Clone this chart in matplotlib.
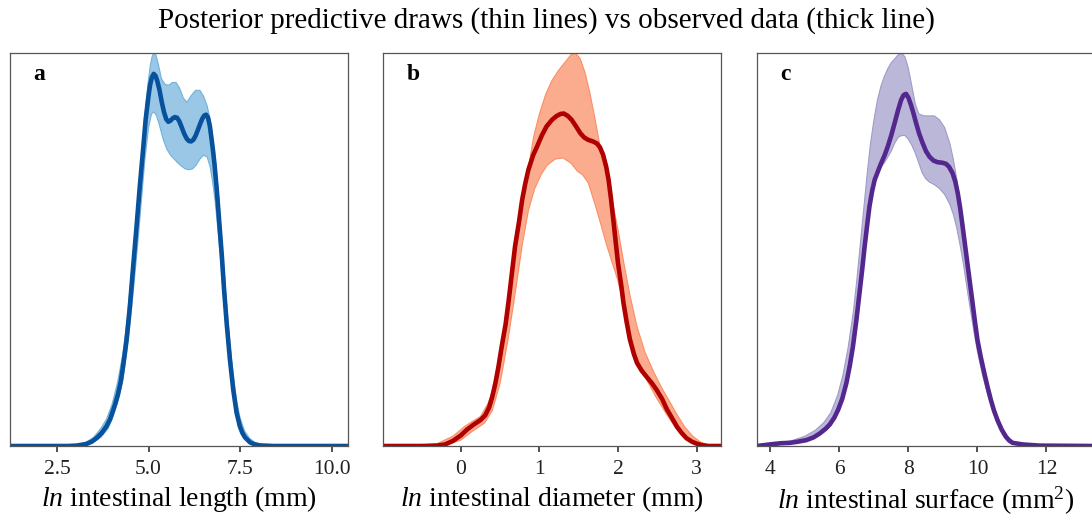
import matplotlib
matplotlib.use("Agg")
import matplotlib.pyplot as plt

plt.rcParams['font.family'] = ['Liberation Serif', 'DejaVu Serif']
plt.rcParams['mathtext.fontset'] = 'custom'
plt.rcParams['mathtext.rm'] = 'Liberation Serif'
plt.rcParams['mathtext.it'] = 'Liberation Serif:italic'
plt.rcParams['mathtext.bf'] = 'Liberation Serif:bold'

# ---------------- Panel a: ln intestinal length ----------------
len_obs_x = [1.22, 2.78, 3.03, 3.30, 3.45, 3.58, 3.72, 3.85, 3.95, 4.03, 4.10, 4.17, 4.24, 4.30,
             4.40, 4.49, 4.58, 4.67, 4.76, 4.85, 4.92, 4.99, 5.04, 5.09, 5.14, 5.19, 5.24, 5.30,
             5.36, 5.42, 5.48, 5.54, 5.60, 5.66, 5.72, 5.78, 5.84, 5.90, 5.97, 6.04, 6.10, 6.16,
             6.22, 6.28, 6.34, 6.40, 6.46, 6.52, 6.57, 6.62, 6.67, 6.72, 6.76, 6.80, 6.86, 6.93,
             7.00, 7.06, 7.13, 7.22, 7.31, 7.40, 7.49, 7.56, 7.63, 7.77, 7.90, 8.04, 8.41, 10.44]
len_obs_y = [0, 0, 0.001, 0.005, 0.011, 0.02, 0.033, 0.05, 0.068, 0.09, 0.11, 0.134, 0.163, 0.20,
             0.27, 0.355, 0.457, 0.556, 0.66, 0.754, 0.83, 0.885, 0.918, 0.938, 0.947, 0.942, 0.928, 0.905,
             0.875, 0.85, 0.832, 0.825, 0.828, 0.834, 0.837, 0.835, 0.826, 0.812, 0.795, 0.782, 0.776, 0.775,
             0.779, 0.789, 0.803, 0.818, 0.832, 0.841, 0.843, 0.836, 0.815, 0.78, 0.75, 0.715, 0.652, 0.567,
             0.482, 0.397, 0.313, 0.219, 0.143, 0.085, 0.05, 0.033, 0.022, 0.009, 0.004, 0.0015, 0, 0]
len_hi_x = [2.9, 3.1, 3.3, 3.5, 3.7, 3.85, 4.0, 4.15, 4.3, 4.4, 4.5, 4.6, 4.7, 4.8, 4.9, 4.98,
            5.05, 5.1, 5.15, 5.2, 5.27, 5.35, 5.45, 5.55, 5.65, 5.75, 5.85, 5.95, 6.05, 6.15, 6.28,
            6.4, 6.5, 6.6, 6.68, 6.75, 6.82, 6.9, 6.97, 7.05, 7.13, 7.22, 7.31, 7.4, 7.5, 7.62,
            7.75, 7.9, 8.1, 8.4]
len_hi_y = [0, 0.003, 0.01, 0.022, 0.045, 0.068, 0.105, 0.16, 0.235, 0.31, 0.405, 0.51, 0.62, 0.73,
            0.84, 0.92, 0.97, 0.992, 1.0, 0.995, 0.97, 0.935, 0.92, 0.918, 0.925, 0.925, 0.91, 0.885,
            0.875, 0.89, 0.905, 0.905, 0.89, 0.865, 0.83, 0.78, 0.73, 0.65, 0.56, 0.46, 0.36, 0.26,
            0.18, 0.115, 0.07, 0.038, 0.02, 0.009, 0.003, 0]
len_lo_x = [2.9, 3.2, 3.5, 3.7, 3.9, 4.05, 4.2, 4.3, 4.4, 4.5, 4.6, 4.7, 4.8, 4.9, 5.0, 5.08,
            5.15, 5.22, 5.3, 5.4, 5.5, 5.6, 5.7, 5.8, 5.9, 6.0, 6.1, 6.2, 6.3, 6.4, 6.5, 6.6,
            6.68, 6.75, 6.82, 6.88, 6.95, 7.02, 7.1, 7.18, 7.27, 7.36, 7.45, 7.55, 7.7, 7.9, 8.2]
len_lo_y = [0, 0.001, 0.01, 0.022, 0.045, 0.08, 0.125, 0.17, 0.235, 0.315, 0.41, 0.51, 0.62, 0.73,
            0.81, 0.845, 0.85, 0.84, 0.815, 0.78, 0.755, 0.74, 0.73, 0.72, 0.712, 0.705, 0.703, 0.705,
            0.715, 0.73, 0.74, 0.735, 0.71, 0.67, 0.62, 0.56, 0.49, 0.41, 0.32, 0.24, 0.165, 0.1,
            0.06, 0.033, 0.014, 0.004, 0]
len_ticks = [2.5, 5.0, 7.5, 10.0]
len_ticklabels = ['2.5', '5.0', '7.5', '10.0']
len_xlim = (1.22, 10.44)

# ---------------- Panel b: ln intestinal diameter ----------------
dia_obs_x = [-0.99, -0.5, -0.3, -0.2, -0.1, 0.0, 0.08, 0.16, 0.25, 0.31, 0.36, 0.40, 0.44, 0.48,
             0.52, 0.57, 0.61, 0.65, 0.69, 0.74, 0.78, 0.82, 0.86, 0.92, 0.97, 1.03, 1.09, 1.16,
             1.22, 1.27, 1.31, 1.36, 1.41, 1.47, 1.52, 1.57, 1.62, 1.68, 1.73, 1.77, 1.81, 1.85,
             1.88, 1.91, 1.94, 1.97, 2.00, 2.04, 2.07, 2.11, 2.15, 2.20, 2.24, 2.30, 2.36, 2.43,
             2.49, 2.56, 2.62, 2.69, 2.75, 2.81, 2.87, 2.94, 3.00, 3.07, 3.15, 3.31]
dia_obs_y = [0, 0, 0.001, 0.004, 0.013, 0.027, 0.042, 0.054, 0.066, 0.078, 0.098, 0.125, 0.16, 0.203,
             0.253, 0.31, 0.372, 0.44, 0.508, 0.57, 0.626, 0.668, 0.703, 0.74, 0.762, 0.79, 0.813, 0.83,
             0.84, 0.845, 0.846, 0.84, 0.83, 0.812, 0.796, 0.785, 0.779, 0.775, 0.77, 0.76, 0.741, 0.71,
             0.677, 0.63, 0.576, 0.52, 0.465, 0.41, 0.363, 0.315, 0.272, 0.235, 0.212, 0.192, 0.177, 0.16,
             0.143, 0.12, 0.094, 0.07, 0.049, 0.033, 0.02, 0.011, 0.006, 0.002, 0, 0]
dia_hi_x = [-0.6, -0.3, -0.1, 0.05, 0.15, 0.25, 0.35, 0.45, 0.55, 0.65, 0.72, 0.8, 0.87, 0.93,
            1.0, 1.08, 1.16, 1.24, 1.32, 1.40, 1.46, 1.52, 1.58, 1.64, 1.7, 1.76, 1.82, 1.88,
            1.94, 2.0, 2.07, 2.15, 2.24, 2.34, 2.45, 2.55, 2.65, 2.75, 2.85, 2.95, 3.05, 3.15, 3.31]
dia_hi_y = [0, 0.006, 0.025, 0.05, 0.063, 0.075, 0.11, 0.17, 0.28, 0.44, 0.54, 0.64, 0.72, 0.79,
            0.845, 0.895, 0.93, 0.955, 0.975, 0.995, 1.0, 0.985, 0.95, 0.9, 0.84, 0.775, 0.72, 0.665,
            0.61, 0.55, 0.47, 0.385, 0.305, 0.24, 0.19, 0.15, 0.115, 0.08, 0.048, 0.025, 0.01, 0.003, 0]
dia_lo_x = [-0.4, -0.2, 0.0, 0.15, 0.3, 0.4, 0.5, 0.6, 0.7, 0.78, 0.86, 0.94, 1.02, 1.1, 1.2,
            1.3, 1.4, 1.48, 1.55, 1.62, 1.7, 1.78, 1.85, 1.92, 2.0, 2.07, 2.15, 2.24, 2.36, 2.49,
            2.62, 2.75, 2.87, 3.0, 3.1]
dia_lo_y = [0, 0.002, 0.015, 0.038, 0.058, 0.09, 0.16, 0.27, 0.40, 0.51, 0.6, 0.655, 0.69, 0.715, 0.73,
            0.733, 0.72, 0.70, 0.69, 0.67, 0.62, 0.565, 0.515, 0.47, 0.42, 0.36, 0.29, 0.225, 0.17, 0.122,
            0.08, 0.042, 0.016, 0.004, 0]
dia_ticks = [0, 1, 2, 3]
dia_ticklabels = ['0', '1', '2', '3']
dia_xlim = (-0.99, 3.31)

# ---------------- Panel c: ln intestinal surface ----------------
sur_obs_x = [3.6, 3.8, 4.08, 4.3, 4.56, 4.8, 5.04, 5.25, 5.43, 5.6, 5.72, 5.85, 5.96, 6.08, 6.20,
             6.30, 6.39, 6.49, 6.58, 6.66, 6.73, 6.80, 6.87, 6.95, 7.02, 7.12, 7.21, 7.31, 7.40,
             7.50, 7.60, 7.70, 7.79, 7.86, 7.93, 8.00, 8.08, 8.15, 8.22, 8.31, 8.41, 8.51, 8.61,
             8.73, 8.85, 8.97, 9.09, 9.18, 9.28, 9.36, 9.43, 9.50, 9.57, 9.65, 9.72, 9.79, 9.86,
             9.93, 10.0, 10.10, 10.20, 10.30, 10.39, 10.48, 10.58, 10.70, 10.82, 10.92, 11.02,
             11.31, 11.79, 13.4]
sur_obs_y = [0, 0.002, 0.005, 0.007, 0.008, 0.011, 0.015, 0.022, 0.032, 0.044, 0.055, 0.072, 0.092, 0.12, 0.16,
             0.205, 0.253, 0.32, 0.389, 0.45, 0.508, 0.56, 0.61, 0.65, 0.677, 0.70, 0.72, 0.74, 0.762,
             0.79, 0.822, 0.855, 0.881, 0.893, 0.896, 0.886, 0.866, 0.845, 0.822, 0.795, 0.771, 0.75, 0.736,
             0.726, 0.722, 0.721, 0.718, 0.71, 0.694, 0.672, 0.643, 0.605, 0.559, 0.505, 0.457, 0.41, 0.363,
             0.315, 0.27, 0.225, 0.185, 0.148, 0.117, 0.09, 0.066, 0.042, 0.024, 0.014, 0.008,
             0.004, 0.001, 0]
sur_hi_x = [3.6, 4.1, 4.6, 5.0, 5.3, 5.55, 5.75, 5.95, 6.1, 6.25, 6.4, 6.5, 6.6, 6.7, 6.8, 6.9,
            7.0, 7.1, 7.2, 7.3, 7.4, 7.5, 7.6, 7.7, 7.8, 7.9, 8.0, 8.1, 8.2, 8.3, 8.45, 8.6, 8.75,
            8.9, 9.05, 9.2, 9.3, 9.4, 9.5, 9.6, 9.7, 9.8, 9.9, 10.0, 10.15, 10.3, 10.45, 10.6,
            10.75, 10.9, 11.05, 11.3, 11.8, 13.4]
sur_hi_y = [0, 0.007, 0.013, 0.025, 0.04, 0.06, 0.085, 0.13, 0.18, 0.25, 0.34, 0.42, 0.51, 0.6, 0.69, 0.77,
            0.83, 0.88, 0.915, 0.94, 0.96, 0.975, 0.985, 0.995, 1.0, 0.99, 0.96, 0.915, 0.87, 0.845, 0.84, 0.84, 0.84,
            0.83, 0.81, 0.77, 0.73, 0.68, 0.62, 0.55, 0.48, 0.41, 0.345, 0.285, 0.21, 0.15, 0.105, 0.07,
            0.042, 0.022, 0.01, 0.004, 0.001, 0]
sur_lo_x = [3.6, 4.1, 4.6, 5.0, 5.3, 5.55, 5.75, 5.95, 6.1, 6.25, 6.4, 6.5, 6.6, 6.7, 6.8, 6.9,
            7.0, 7.1, 7.2, 7.3, 7.4, 7.5, 7.6, 7.7, 7.8, 7.9, 8.0, 8.1, 8.2, 8.3, 8.4, 8.5, 8.6,
            8.75, 8.9, 9.05, 9.2, 9.3, 9.4, 9.5, 9.6, 9.7, 9.8, 9.9, 10.0, 10.15, 10.3, 10.45,
            10.6, 10.75, 10.9, 11.05, 11.3, 11.8, 13.4]
sur_lo_y = [0, 0.003, 0.006, 0.012, 0.022, 0.036, 0.052, 0.085, 0.125, 0.18, 0.26, 0.33, 0.4, 0.48, 0.55, 0.61,
            0.66, 0.69, 0.71, 0.72, 0.735, 0.75, 0.77, 0.785, 0.79, 0.79, 0.78, 0.765, 0.745, 0.72, 0.695, 0.68, 0.672,
            0.665, 0.655, 0.64, 0.615, 0.59, 0.555, 0.51, 0.46, 0.40, 0.345, 0.29, 0.24, 0.18, 0.13, 0.09,
            0.058, 0.035, 0.017, 0.007, 0.002, 0, 0]
sur_ticks = [4, 6, 8, 10, 12]
sur_ticklabels = ['4', '6', '8', '10', '12']
sur_xlim = (3.6, 13.4)

panel_letters = ['a', 'b', 'c']
xlabels = [r'$\mathit{ln}$ intestinal length (mm)',
           r'$\mathit{ln}$ intestinal diameter (mm)',
           r'$\mathit{ln}$ intestinal surface (mm$^2$)']
thin_colors = ['#72b2db', '#fc8d62', '#a09cca']
thick_colors = ['#08519c', '#b00000', '#54278f']
title = 'Posterior predictive draws (thin lines) vs observed data (thick line)'

panels = [
    (len_obs_x, len_obs_y, len_lo_x, len_lo_y, len_hi_x, len_hi_y, len_ticks, len_ticklabels, len_xlim),
    (dia_obs_x, dia_obs_y, dia_lo_x, dia_lo_y, dia_hi_x, dia_hi_y, dia_ticks, dia_ticklabels, dia_xlim),
    (sur_obs_x, sur_obs_y, sur_lo_x, sur_lo_y, sur_hi_x, sur_hi_y, sur_ticks, sur_ticklabels, sur_xlim),
]

W, H = 1092, 519
fig = plt.figure(figsize=(W / 100, H / 100), dpi=100)
lefts = [10, 383, 756.7]
ax_w = 338
ax_top, ax_bot = 53, 446

for i, (ox, oy, lx, ly, hx, hy, ticks, tlabels, xlim) in enumerate(panels):
    ax = fig.add_axes([lefts[i] / W, (H - ax_bot) / H, ax_w / W, (ax_bot - ax_top) / H])
    ax.fill(list(hx) + list(lx[::-1]), list(hy) + list(ly[::-1]),
            color=thin_colors[i], alpha=0.72, linewidth=0)
    ax.plot(lx, ly, color=thin_colors[i], lw=0.8)
    ax.plot(hx, hy, color=thin_colors[i], lw=0.8)
    ax.plot(ox, oy, color=thick_colors[i], lw=3.3, solid_capstyle='round',
            solid_joinstyle='round')
    ax.set_xlim(*xlim)
    ax.set_ylim(0, 1.0)
    ax.set_yticks([])
    ax.set_xticks(ticks)
    ax.set_xticklabels(tlabels)
    ax.tick_params(axis='x', length=4, width=1.2, color='#333333', labelsize=15.5,
                   labelcolor='#222222', pad=6)
    for s in ax.spines.values():
        s.set_color('#555555')
        s.set_linewidth(0.9)
    ax.set_xlabel(xlabels[i], fontsize=20, labelpad=4)
    ax.text(0.07, 0.972, panel_letters[i], transform=ax.transAxes, fontsize=17,
            fontweight='bold', va='top', ha='left')

fig.text(0.5, 1 - 21 / H, title, ha='center', va='center', fontsize=21)
fig.savefig('out.png', dpi=100)
